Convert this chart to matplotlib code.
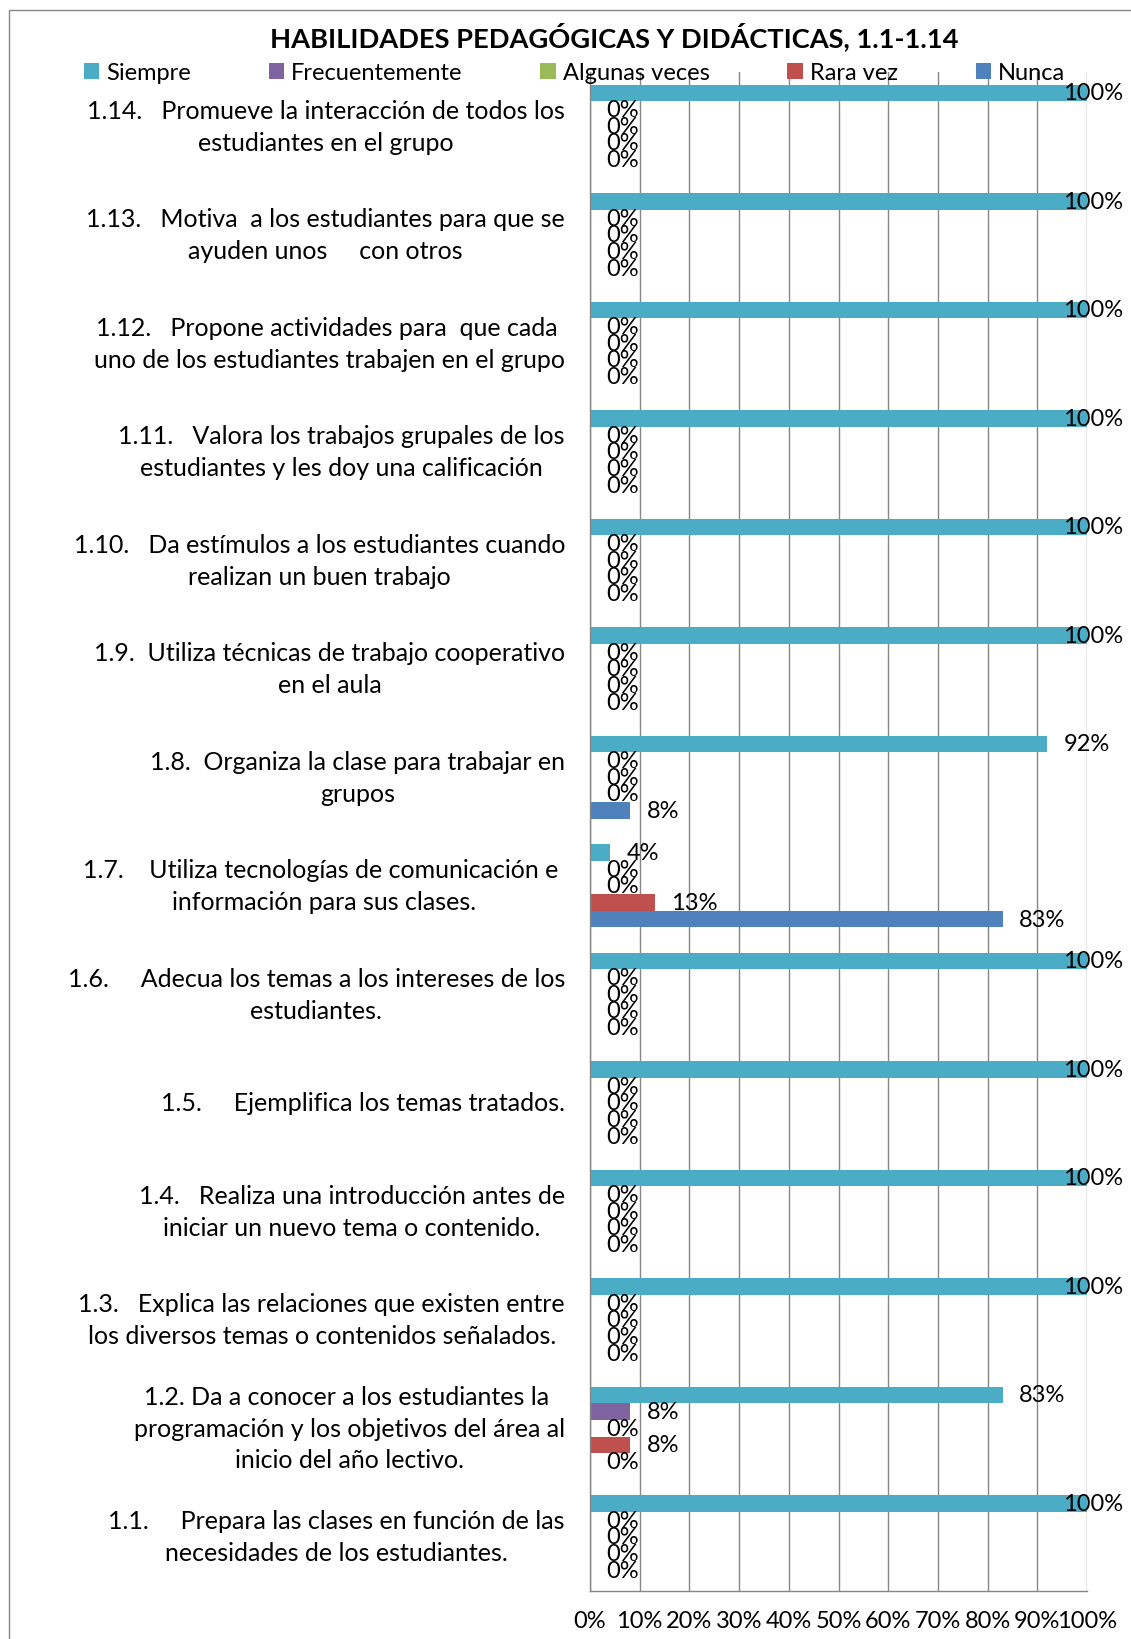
import numpy as np
import matplotlib.pyplot as plt
from matplotlib.patches import Patch, Rectangle

plt.rcParams['font.family'] = ['Lato', 'DejaVu Sans']

# Datos (de abajo hacia arriba: 1.1 ... 1.14)
categorias = [
    "1.1.     Prepara las clases en función de las\nnecesidades de los estudiantes.",
    "1.2. Da a conocer a los estudiantes la \nprogramación y los objetivos del área al\ninicio del año lectivo.",
    "1.3.   Explica las relaciones que existen entre\nlos diversos temas o contenidos señalados.",
    "1.4.   Realiza una introducción antes de\niniciar un nuevo tema o contenido.",
    "1.5.     Ejemplifica los temas tratados.",
    "1.6.     Adecua los temas a los intereses de los\nestudiantes.",
    "1.7.    Utiliza tecnologías de comunicación e \ninformación para sus clases.",
    "1.8.  Organiza la clase para trabajar en\ngrupos",
    "1.9.  Utiliza técnicas de trabajo cooperativo\nen el aula",
    "1.10.   Da estímulos a los estudiantes cuando\nrealizan un buen trabajo",
    "1.11.   Valora los trabajos grupales de los\nestudiantes y les doy una calificación",
    "1.12.   Propone actividades para  que cada \nuno de los estudiantes trabajen en el grupo",
    "1.13.   Motiva  a los estudiantes para que se\nayuden unos     con otros",
    "1.14.   Promueve la interacción de todos los\nestudiantes en el grupo",
]
siempre = [100, 83, 100, 100, 100, 100, 4, 92, 100, 100, 100, 100, 100, 100]
frecuentemente = [0, 8, 0, 0, 0, 0, 0, 0, 0, 0, 0, 0, 0, 0]
algunas_veces = [0, 0, 0, 0, 0, 0, 0, 0, 0, 0, 0, 0, 0, 0]
rara_vez = [0, 8, 0, 0, 0, 0, 13, 0, 0, 0, 0, 0, 0, 0]
nunca = [0, 0, 0, 0, 0, 0, 83, 8, 0, 0, 0, 0, 0, 0]

series = ["Siempre", "Frecuentemente", "Algunas veces", "Rara vez", "Nunca"]
valores = [siempre, frecuentemente, algunas_veces, rara_vez, nunca]
colores = ["#4BACC6", "#8064A2", "#9BBB59", "#C0504D", "#4F81BD"]

W, H = 1131, 1640
fig = plt.figure(figsize=(W / 100, H / 100), dpi=100)
ax = fig.add_axes([590 / W, 1 - 1592 / H, 497 / W, (1592 - 73) / H])

fs = 17
gris = "#868686"
y = np.arange(len(categorias))
h = 1 / 6.5

for i, (nombre, vals, col) in enumerate(zip(series, valores, colores)):
    pos = y + (2 - i) * h
    ax.barh(pos, vals, height=h, color=col, linewidth=0, zorder=2)
    for v, p in zip(vals, pos):
        if v >= 100:
            ax.annotate(f"{v}%", (v, p), xytext=(26, 0), textcoords="offset points",
                        ha="right", va="center", fontsize=fs, zorder=4,
                        annotation_clip=False)
        else:
            ax.annotate(f"{v}%", (v, p), xytext=(12, 0), textcoords="offset points",
                        ha="left", va="center", fontsize=fs, zorder=4,
                        annotation_clip=False)

ax.set_xlim(0, 100)
ax.set_ylim(-0.5, len(categorias) - 0.5)
ax.set_xticks(np.arange(0, 101, 10))
ax.set_xticklabels([f"{t}%" for t in range(0, 101, 10)], fontsize=fs)
ax.set_yticks(y)
ax.set_yticklabels(categorias, fontsize=18)
for t in ax.get_yticklabels():
    t.set_multialignment("center")
    t.set_linespacing(1.45)
    t.set_verticalalignment("center")
ax.tick_params(axis="y", length=0, pad=18)
ax.tick_params(axis="x", length=0, pad=14)

ax.grid(axis="x", color=gris, linewidth=1.0, zorder=0)
ax.set_axisbelow(True)
for s in ["top", "right"]:
    ax.spines[s].set_visible(False)
for s in ["left", "bottom"]:
    ax.spines[s].set_color(gris)
    ax.spines[s].set_linewidth(1.0)

# Título
fig.text(614 / W, 1 - 37 / H, "HABILIDADES PEDAGÓGICAS Y DIDÁCTICAS, 1.1-1.14",
         ha="center", va="center", fontsize=19.6, fontweight="bold")

# Leyenda
handles = [Patch(facecolor=c, edgecolor="none") for c in colores]
fig.legend(handles, series, loc="center left", ncol=5,
           bbox_to_anchor=(84 / W, 1 - 73.5 / H), frameon=False,
           borderpad=0, borderaxespad=0, fontsize=fs,
           handlelength=0.64, handleheight=0.64, handletextpad=0.3,
           columnspacing=3.3)

# Marco del gráfico
fig.patches.append(Rectangle((9 / W, -0.1), 1.2, 1 - 11 / H + 0.1,
                             transform=fig.transFigure, fill=False,
                             edgecolor=gris, linewidth=1.0))

fig.savefig("out.png", dpi=100)
